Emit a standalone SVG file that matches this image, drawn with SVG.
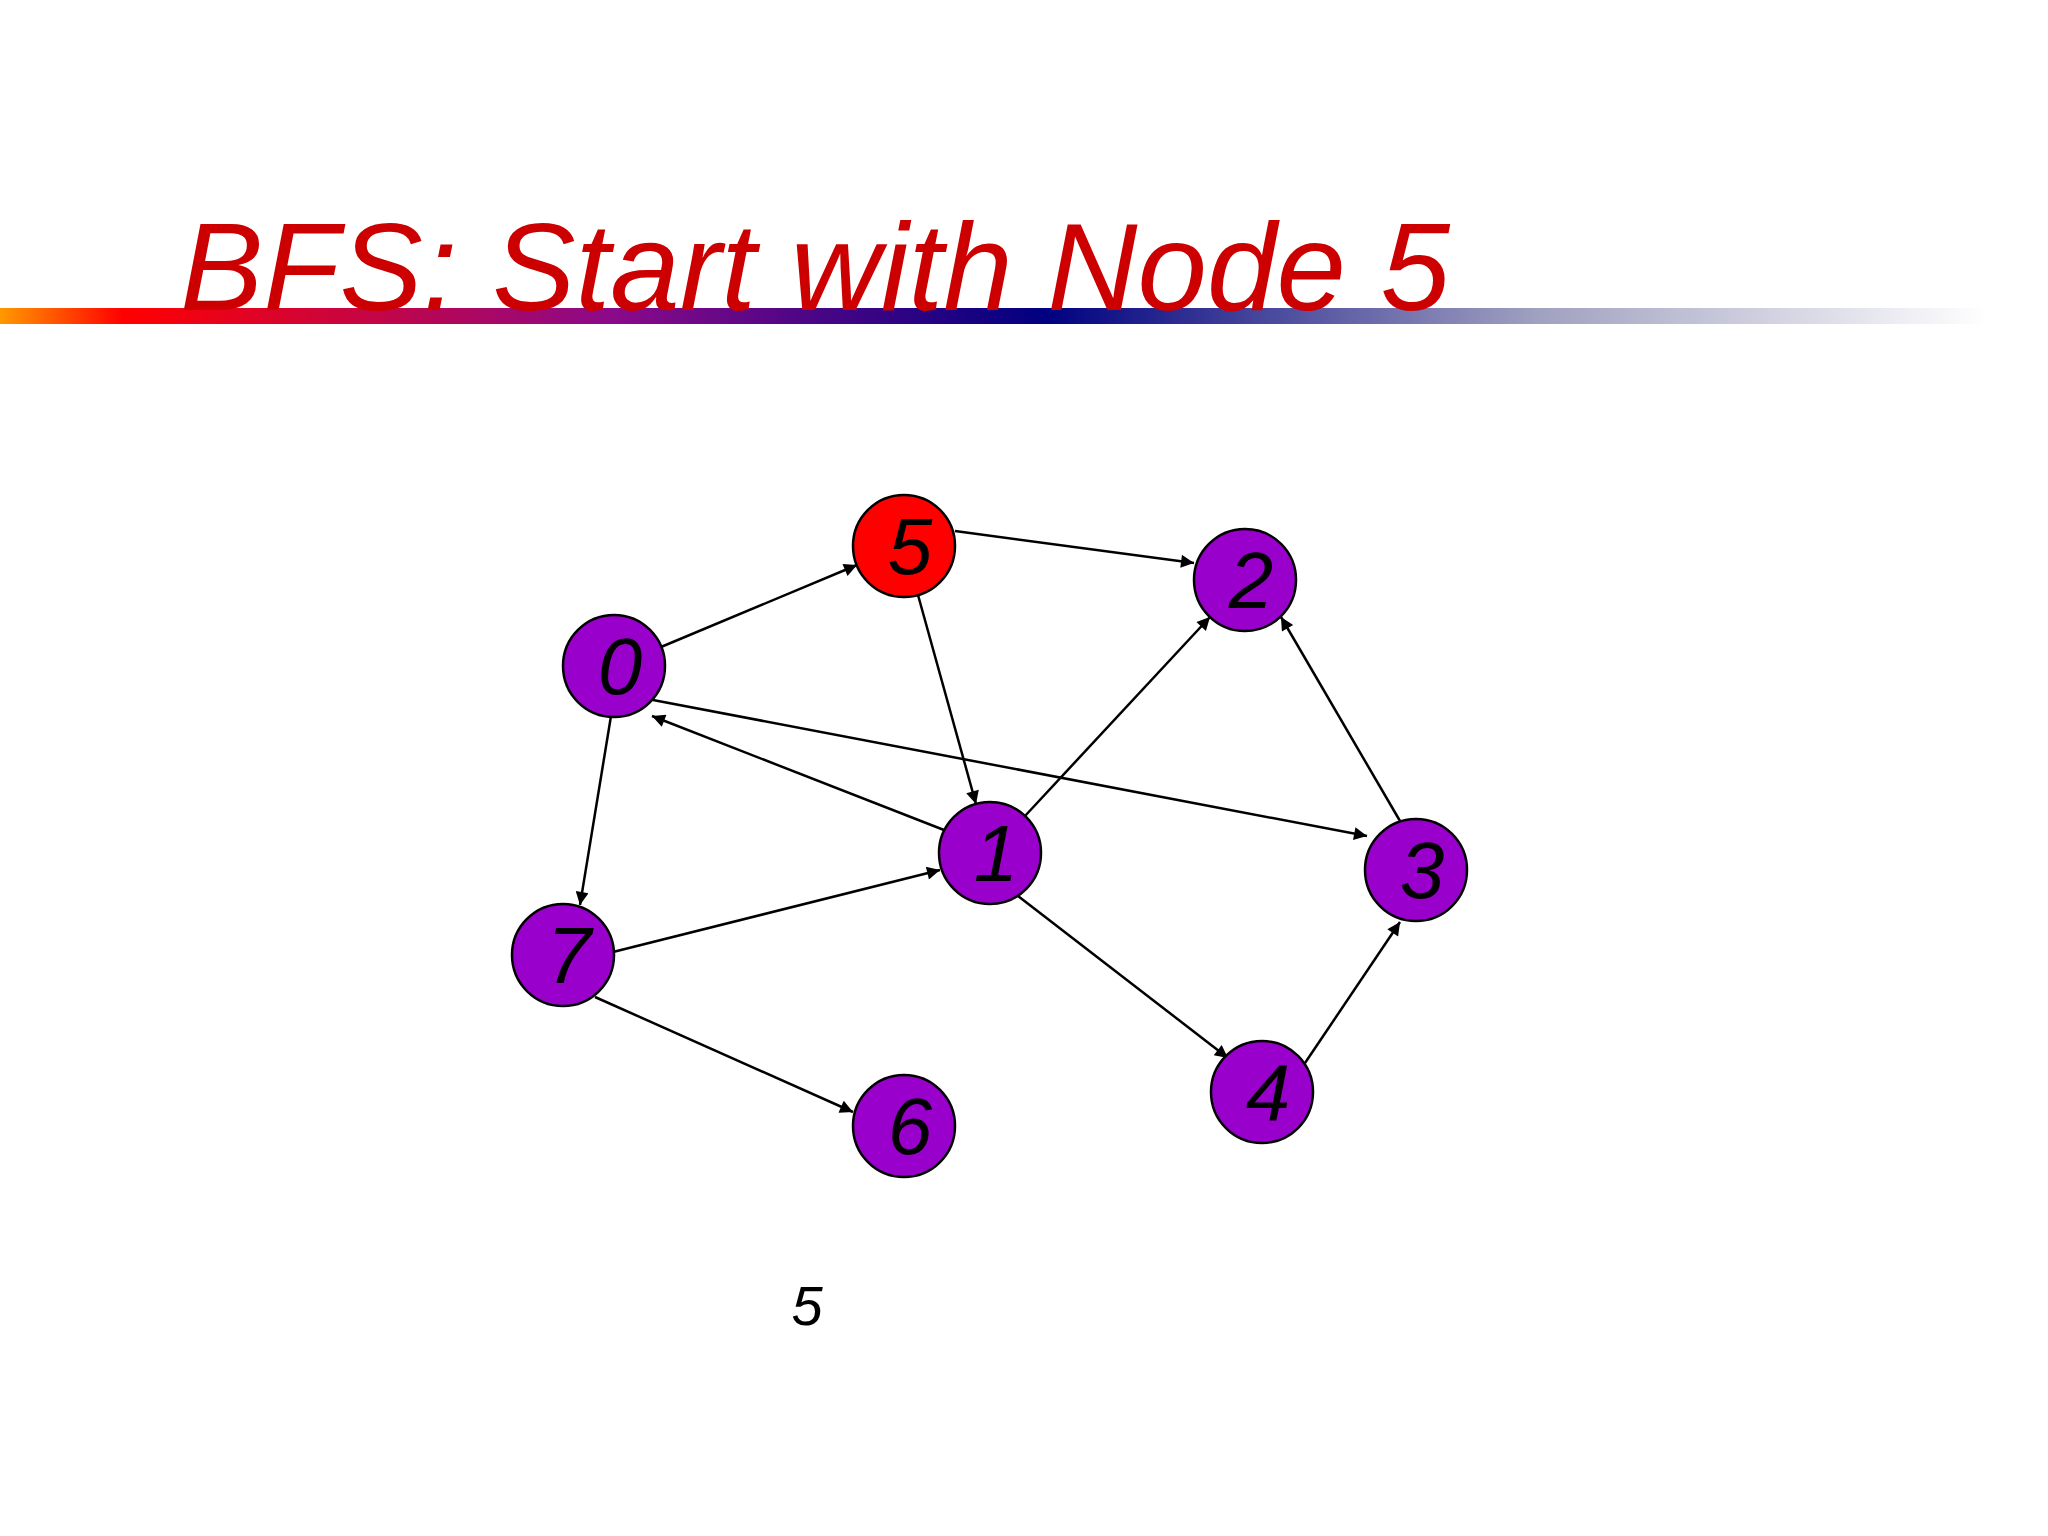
<svg xmlns="http://www.w3.org/2000/svg" width="2048" height="1536" viewBox="0 0 2048 1536">
<defs>
<linearGradient id="bar" x1="0" y1="0" x2="1" y2="0">
<stop offset="0" stop-color="#ff9900"/>
<stop offset="0.06" stop-color="#ff0000"/>
<stop offset="0.3" stop-color="#8a0a8a"/>
<stop offset="0.51" stop-color="#000080"/>
<stop offset="0.75" stop-color="#a0a0c0"/>
<stop offset="0.97" stop-color="#ffffff"/>
</linearGradient>
<marker id="ah" viewBox="0 0 10 10" refX="10" refY="5" markerWidth="17" markerHeight="13" markerUnits="userSpaceOnUse" orient="auto"><path d="M0,0 L10,5 L0,10 z" fill="#000"/></marker>
</defs>
<style>
.n circle{fill:#9900cc;stroke:#000;stroke-width:2.5}
.n.s circle{fill:#ff0000}
.n text{font-family:"Liberation Sans",Arial,sans-serif;font-style:italic;font-size:80px;text-anchor:middle;fill:#000}
#edges line{stroke:#000;stroke-width:2.5;marker-end:url(#ah)}
</style>
<rect width="2048" height="1536" fill="#fff"/>
<rect x="0" y="308" width="2048" height="16" fill="url(#bar)"/>
<text x="180" y="310" font-family="Liberation Sans,Arial,sans-serif" font-style="italic" font-size="125" fill="#cc0000" textLength="1270" lengthAdjust="spacingAndGlyphs">BFS: Start with Node 5</text>
<g id="edges">
<line x1="661" y1="647" x2="857" y2="565"/>
<line x1="955" y1="531" x2="1194" y2="563"/>
<line x1="918" y1="595" x2="976" y2="804"/>
<line x1="944" y1="830" x2="652" y2="716"/>
<line x1="653" y1="700" x2="1367" y2="836"/>
<line x1="611" y1="716" x2="580" y2="905"/>
<line x1="613" y1="952" x2="940" y2="870"/>
<line x1="1025" y1="816" x2="1210" y2="617"/>
<line x1="1400" y1="821" x2="1281" y2="617"/>
<line x1="1018" y1="896" x2="1228" y2="1058"/>
<line x1="1305" y1="1063" x2="1400" y2="922"/>
<line x1="595" y1="997" x2="853" y2="1112"/>
</g>
<g id="n5" class="n s"><circle cx="904" cy="546" r="51"/><text x="910" y="574">5</text></g>
<g id="n2" class="n"><circle cx="1245" cy="580" r="51"/><text x="1251" y="608">2</text></g>
<g id="n0" class="n"><circle cx="614" cy="666" r="51"/><text x="620" y="694">0</text></g>
<g id="n1" class="n"><circle cx="990" cy="853" r="51"/><text x="996" y="881">1</text></g>
<g id="n3" class="n"><circle cx="1416" cy="870" r="51"/><text x="1422" y="898">3</text></g>
<g id="n7" class="n"><circle cx="563" cy="955" r="51"/><text x="569" y="983">7</text></g>
<g id="n4" class="n"><circle cx="1262" cy="1092" r="51"/><text x="1268" y="1120">4</text></g>
<g id="n6" class="n"><circle cx="904" cy="1126" r="51"/><text x="910" y="1154">6</text></g>
<text x="807" y="1325" font-family="Liberation Sans,Arial,sans-serif" font-style="italic" font-size="56" text-anchor="middle" fill="#000">5</text>
</svg>
